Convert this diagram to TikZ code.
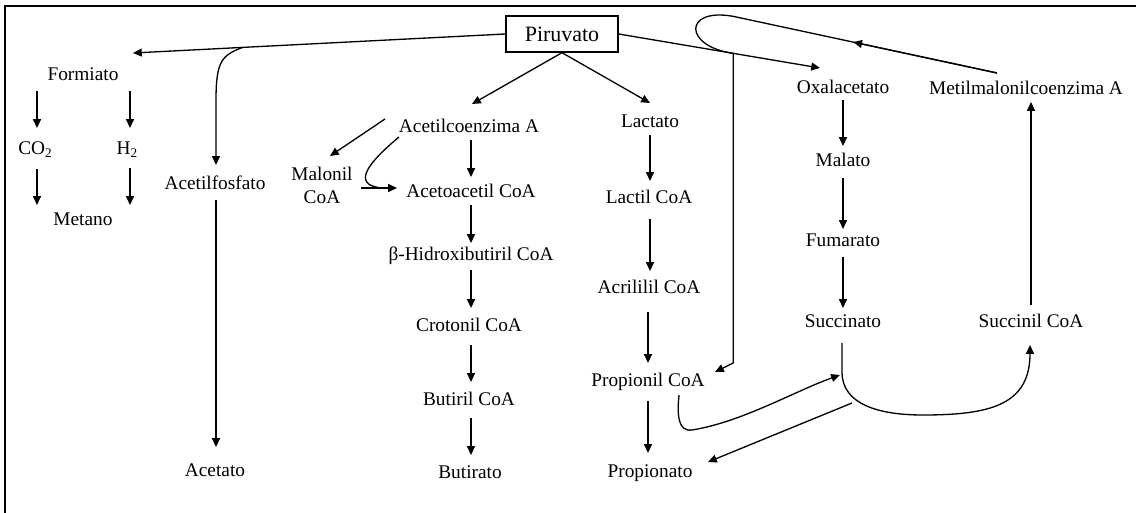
\documentclass[tikz,border=0pt]{standalone}
\usepackage{fontspec}
\setmainfont{Liberation Serif}
\usetikzlibrary{calc,arrows.meta}
\begin{document}
\begin{tikzpicture}[x=0.02cm,y=-0.02cm,
  txt/.style={inner sep=0pt, font=\fontsize{11}{13}\selectfont, text height=7.5pt, text depth=2pt},
  box/.style={draw, line width=0.8pt, inner sep=0pt, minimum width=2.24cm, minimum height=0.72cm, font=\fontsize{12.5}{14}\selectfont},
  arr/.style={draw, line width=0.75pt, -{Triangle[length=5pt,width=4.5pt]}},
  ln/.style={draw, line width=0.75pt},
  frame/.style={draw, line width=1.1pt}]
\useasboundingbox (0,0) rectangle (1136,513);
\draw[frame] (5,513) -- (5,6) -- (1136,6);

% nodes
\node[box] (piru) at (562,34) {Piruvato};
\node[txt] (form) at (83,76) {Formiato};
\node[txt] (co2) at (35,150) {CO\raisebox{-0.25ex}{\fontsize{7.5}{8}\selectfont 2}};
\node[txt] (h2) at (127,150) {H\raisebox{-0.25ex}{\fontsize{7.5}{8}\selectfont 2}};
\node[txt] (met) at (83,221) {Metano};
\node[txt] (afos) at (215,185) {Acetilfosfato};
\node[txt] (acet) at (215,472) {Acetato};
\node[txt] (acoa) at (469,128) {Acetilcoenzima A};
\node[inner sep=0pt, font=\fontsize{11}{13}\selectfont, align=center] (mal) at (322,185) {Malonil\\CoA};
\node[txt] (acac) at (471,193) {Acetoacetil CoA};
\node[txt] (bhb) at (471,256) {β-Hidroxibutiril CoA};
\node[txt] (crot) at (469,327) {Crotonil CoA};
\node[txt] (but) at (469,401) {Butiril CoA};
\node[txt] (buto) at (470,474) {Butirato};
\node[txt] (lac) at (650,123) {Lactato};
\node[txt] (lacc) at (649,199) {Lactil CoA};
\node[txt] (acr) at (649,289) {Acrililil CoA};
\node[txt] (pro) at (648,382) {Propionil CoA};
\node[txt] (propo) at (650,473) {Propionato};
\node[txt] (oxal) at (843,89) {Oxalacetato};
\node[txt] (malt) at (843,162) {Malato};
\node[txt] (fum) at (843,242) {Fumarato};
\node[txt] (succ) at (843,323) {Succinato};
\node[txt] (metil) at (1026,90) {Metilmalonilcoenzima A};
\node[txt] (sucoa) at (1031,323) {Succinil CoA};

% Piruvato -> Formiato line, with branch to Acetilfosfato
\coordinate (tipF) at ($(form)+(50,-23)$);
\draw[arr] (piru.west) -- (tipF);
\path (piru.west) -- coordinate[pos=0.706] (br1) (tipF);
\draw[arr] (br1) .. controls ($(br1)+(-20,8)$) and ($(afos)+(1,-125)$) .. ($(afos)+(1,-85)$) -- ($(afos)+(1,-20)$);

% Formiato branch
\draw[arr] ($(form)+(-46,15)$) -- ($(co2)+(2,-22)$);
\draw[arr] ($(form)+(47,15)$) -- ($(h2)+(3,-22)$);
\draw[arr] ($(co2)+(2,19)$) -- ($(met)+(-46,-16)$);
\draw[arr] ($(h2)+(3,18)$) -- ($(met)+(47,-16)$);
\draw[arr] ($(afos)+(1,15)$) -- ($(acet)+(1,-25)$);

% Piruvato -> Acetilcoenzima A, Lactato
\draw[arr] (piru.south) -- ($(acoa)+(3,-24)$);
\draw[arr] (piru.south) -- ($(lac)+(0,-20)$);

% butyrate column
\draw[arr] ($(acoa)+(-84,-9)$) -- ($(mal)+(8,-29)$);
\draw[ln] ($(acoa)+(-70,9)$) .. controls ($(acoa)+(-100,34)$) and ($(acac)+(-121,-8)$) .. ($(acac)+(-89,-5)$);
\draw[arr] ($(mal)+(39,3)$) -- ($(acac)+(-74,-5)$);
\draw[arr] ($(acoa)+(2,12)$) -- ($(acac)+(0,-16)$);
\draw[arr] ($(acac)+(0,12)$) -- ($(bhb)+(0,-13)$);
\draw[arr] ($(bhb)+(0,14)$) -- ($(crot)+(2,-19)$);
\draw[arr] ($(crot)+(2,18)$) -- ($(but)+(2,-19)$);
\draw[arr] ($(but)+(2,17)$) -- ($(buto)+(1,-19)$);

% propionate column
\draw[arr] ($(lac)+(0,12)$) -- ($(lacc)+(1,-18)$);
\draw[arr] ($(lacc)+(1,20)$) -- ($(acr)+(1,-18)$);
\draw[arr] ($(acr)+(-1,23)$) -- ($(pro)+(0,-19)$);
\draw[arr] ($(pro)+(0,19)$) -- ($(propo)+(-2,-20)$);

% Piruvato -> Oxalacetato, with branch down to Propionil CoA
\coordinate (tipO) at ($(oxal)+(-23,-21)$);
\draw[arr] (piru.east) -- (tipO);
\path (piru.east) -- coordinate[pos=0.569] (br2) (tipO);
\coordinate (cornerP) at ($(pro)+(85,-19)$);
\draw[arr] (br2) -- (br2 |- cornerP) -- ($(pro)+(67,-10)$);

% succinate column
\draw[arr] ($(oxal)+(0,11)$) -- ($(malt)+(0,-16)$);
\draw[arr] ($(malt)+(0,16)$) -- ($(fum)+(0,-13)$);
\draw[arr] ($(fum)+(0,15)$) -- ($(succ)+(0,-15)$);

% Metilmalonilcoenzima A loop back to the branch
\coordinate (m1) at ($(metil)+(-29,-17)$);
\coordinate (m2) at ($(br2)+(0,-37)$);
\draw[ln] (m1) -- (m2) .. controls ($(br2)+(-50,-46)$) and ($(br2)+(-50,-7)$) .. (br2);
\draw[arr] (m1) -- ($(m1)!0.545!(m2)$);

% Succinil CoA -> Metilmalonilcoenzima A
\draw[arr] ($(sucoa)+(0,-18)$) -- ($(sucoa |- metil)+(0,12)$);

% Succinato -> Succinil CoA curve
\draw[arr] ($(succ)+(-1,20)$) -- ($(succ)+(-1,49)$)
  .. controls ($(succ)+(-1,82)$) and ($(succ)+(37,92)$) .. ($(succ)+(80,92)$)
  .. controls ($(sucoa)+(-41,92)$) and ($(sucoa)+(-1,82)$) .. ($(sucoa)+(-1,22)$);

% Propionil CoA -> Succinato curve
\draw[arr] ($(pro)+(31,13)$) .. controls ($(pro)+(29,33)$) and ($(pro)+(30,50)$) .. ($(pro)+(44,48)$)
  .. controls ($(pro)+(94,40)$) and ($(succ)+(-48,68)$) .. ($(succ)+(-3,52)$);

% branch -> Propionato
\draw[arr] ($(succ)+(9,80)$) -- ($(propo)+(58,-11)$);
\end{tikzpicture}
\end{document}
